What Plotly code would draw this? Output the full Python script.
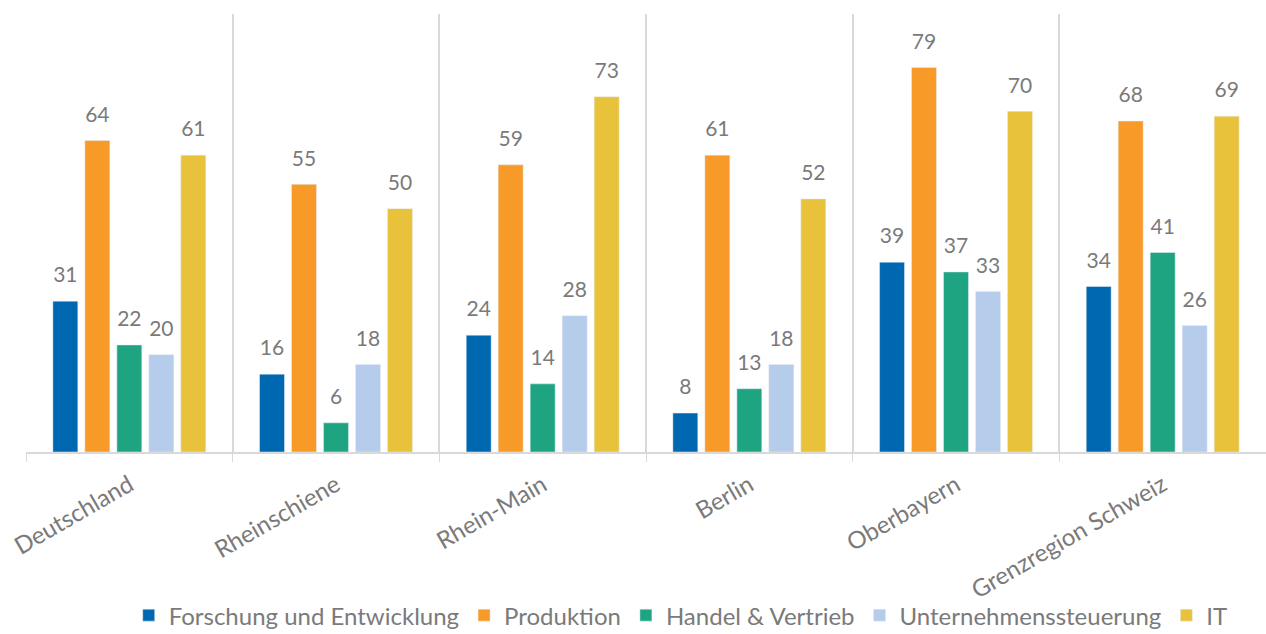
import plotly.graph_objects as go

categories = ["Deutschland", "Rheinschiene", "Rhein-Main", "Berlin", "Oberbayern", "Grenzregion Schweiz"]
series_names = ["Forschung und Entwicklung", "Produktion", "Handel & Vertrieb", "Unternehmenssteuerung", "IT"]
forschung = [31, 16, 24, 8, 39, 34]
produktion = [64, 55, 59, 61, 79, 68]
handel = [22, 6, 14, 13, 37, 41]
steuerung = [20, 18, 28, 18, 33, 26]
it = [61, 50, 73, 52, 70, 69]
values = [forschung, produktion, handel, steuerung, it]
colors = ["#0068B1", "#F79A28", "#1FA482", "#B5CCEA", "#E8C23B"]

FONT = "Lato"
GRAY = "#7a7a7a"
GRID = "#d9d9d9"

fig = go.Figure()
for i, (name, vals, col) in enumerate(zip(series_names, values, colors)):
    fig.add_trace(go.Bar(
        x=categories, y=vals, name=name, marker_color=col,
        offsetgroup=str(i), alignmentgroup="a",
        hoverinfo="x+y+name",
    ))
for i, (name, vals) in enumerate(zip(series_names, values)):
    fig.add_trace(go.Scatter(
        x=categories, y=vals, mode="markers+text", text=[str(v) for v in vals],
        textposition="top center", textfont=dict(family=FONT, size=21, color=GRAY),
        marker=dict(size=20, opacity=0), offsetgroup=str(i), alignmentgroup="a",
        showlegend=False, hoverinfo="skip", cliponaxis=False,
    ))

fig.update_layout(
    width=1266, height=634,
    margin=dict(l=26, r=0, t=14, b=182, autoexpand=False),
    paper_bgcolor="white", plot_bgcolor="white",
    barmode="group", bargap=0.226, bargroupgap=0.22,
    scattermode="group", scattergap=0.226,
    font=dict(family=FONT, color=GRAY, size=20),
    showlegend=True,
    legend=dict(orientation="h", x=0.528, xanchor="center", y=-0.322,
                yanchor="top", font=dict(family=FONT, size=24, color=GRAY),
                traceorder="normal", itemwidth=30, bgcolor="rgba(0,0,0,0)"),
    xaxis=dict(
        type="category", tickson="boundaries", ticks="outside", ticklen=8,
        tickcolor=GRID, showgrid=True, gridcolor=GRID, gridwidth=1.5,
        showline=True, linecolor=GRID, linewidth=1.5, tickangle=-30,
        ticklabelstandoff=8, automargin=False,
        tickfont=dict(family=FONT, size=24, color=GRAY),
    ),
    yaxis=dict(range=[0, 90], showticklabels=False, showgrid=False, zeroline=False,
               showline=False),
)

fig.write_html("out.html")
